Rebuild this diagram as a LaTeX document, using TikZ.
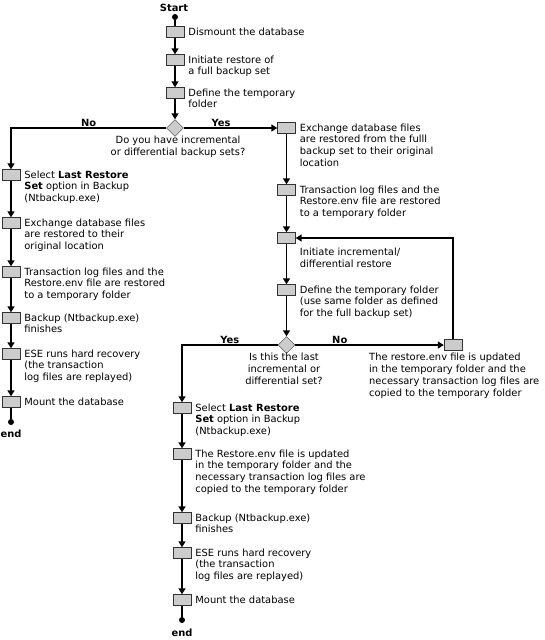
\documentclass[tikz,border=0pt]{standalone}
\usepackage{fontspec}
\setmainfont{DejaVu Sans}
\usepackage{xcolor}
\definecolor{cBox} {HTML}{CCCCCC}
\definecolor{cEdge}{HTML}{333333}
\usetikzlibrary{shapes.geometric, arrows.meta, positioning}
\newcommand{\flowfont}{\fontsize{9.9}{11.8}\selectfont}
\tikzset{
  stepbox/.style = {rectangle, draw=cEdge, fill=cBox, minimum width=18pt,
                    minimum height=11pt, inner sep=0pt},
  choice/.style  = {diamond, draw=cEdge, fill=cBox, minimum width=17pt,
                    minimum height=17pt, inner sep=0pt},
  note/.style    = {align=left, inner sep=0pt, font=\flowfont},
  tag/.style     = {inner sep=1pt, font=\flowfont\bfseries},
  endpt/.style   = {circle, fill=black, inner sep=0pt, minimum size=6pt},
  arr/.style     = {-{Triangle[width=7pt,length=6pt]}, line width=1.6pt},
  link/.style    = {line width=1.6pt},
}

\begin{document}
\begin{tikzpicture}[x=1pt, y=-1pt]
  \useasboundingbox (0,0) rectangle (544,640);

  % main column
  \node[tag]      (start) at (174,8)  {Start};
  \node[endpt]    (s0)    at (175,17) {};
  \node[stepbox]  (b1)    at (175,32) {};
  \node[stepbox]  (b2)    at (175,60) {};
  \node[stepbox]  (b3)    at (175,93) {};
  \node[choice]   (q1)    at (175,128) {};

  \node[note, right=4pt of b1.north east, anchor=north west, yshift=-1pt] (tb1)
        {Dismount the database};
  \node[note, right=4pt of b2.north east, anchor=north west, yshift=-1pt] (tb2)
        {Initiate restore of\\a full backup set};
  \node[note, right=4pt of b3.north east, anchor=north west, yshift=-1pt] (tb3)
        {Define the temporary\\folder};
  \node[note, align=center, anchor=north] (tq1) at (178,136)
        {Do you have incremental\\or differential backup sets?};

  % left column (no incremental sets)
  \node[stepbox]  (l1) at (11,175) {};
  \node[stepbox]  (l2) at (11,223) {};
  \node[stepbox]  (l3) at (11,272) {};
  \node[stepbox]  (l4) at (11,318) {};
  \node[stepbox]  (l5) at (11,354) {};
  \node[stepbox]  (l6) at (11,402) {};
  \node[endpt]    (le) at (11,422) {};
  \node[tag]      (lend) at (11,434) {end};

  \node[note, right=4pt of l1.north east, anchor=north west, yshift=-1pt] (tl1)
        {Select \textbf{Last Restore}\\\textbf{Set} option in Backup\\(Ntbackup.exe)};
  \node[note, right=4pt of l2.north east, anchor=north west, yshift=-1pt] (tl2)
        {Exchange database files\\are restored to their\\original location};
  \node[note, right=4pt of l3.north east, anchor=north west, yshift=-1pt] (tl3)
        {Transaction log files and the\\Restore.env file are restored\\to a temporary folder};
  \node[note, right=4pt of l4.north east, anchor=north west, yshift=-1pt] (tl4)
        {Backup (Ntbackup.exe)\\finishes};
  \node[note, right=4pt of l5.north east, anchor=north west, yshift=-1pt] (tl5)
        {ESE runs hard recovery\\(the transaction\\log files are replayed)};
  \node[note, right=4pt of l6.north east, anchor=north west, yshift=-1pt] (tl6)
        {Mount the database};

  % right column (incremental sets)
  \node[stepbox]  (r1) at (286.5,128) {};
  \node[stepbox]  (r2) at (286.5,190) {};
  \node[stepbox]  (r3) at (286.5,238) {};
  \node[stepbox]  (r4) at (286.5,290) {};
  \node[choice]   (q2) at (286.5,345) {};
  \node[stepbox]  (nb) at (453,345) {};

  \node[note, right=4pt of r1.north east, anchor=north west, yshift=-1pt] (tr1)
        {Exchange database files\\are restored from the fulll\\backup set to their original\\location};
  \node[note, right=4pt of r2.north east, anchor=north west, yshift=-1pt] (tr2)
        {Transaction log files and the\\Restore.env file are restored\\to a temporary folder};
  \node[note, below right=4pt and 4pt of r3.south east, anchor=north west] (tr3)
        {Initiate incremental/\\differential restore};
  \node[note, right=4pt of r4.north east, anchor=north west, yshift=-1pt] (tr4)
        {Define the temporary folder\\(use same folder as defined\\for the full backup set)};
  \node[note, align=center, anchor=north] (tq2) at (284,353)
        {Is this the last\\incremental or\\differential set?};
  \node[note, anchor=north west] (tnb) at (369,353)
        {The restore.env file is updated\\in the temporary folder and the\\necessary transaction log files are\\copied to the temporary folder};

  % middle column (last set)
  \node[stepbox]  (m1) at (182,408) {};
  \node[stepbox]  (m2) at (182,454) {};
  \node[stepbox]  (m3) at (182,518) {};
  \node[stepbox]  (m4) at (182,553) {};
  \node[stepbox]  (m5) at (182,600) {};
  \node[endpt]    (me) at (182,620) {};
  \node[tag]      (mend) at (182,633) {end};

  \node[note, right=4pt of m1.north east, anchor=north west, yshift=-1pt] (tm1)
        {Select \textbf{Last Restore}\\\textbf{Set} option in Backup\\(Ntbackup.exe)};
  \node[note, right=4pt of m2.north east, anchor=north west, yshift=-1pt] (tm2)
        {The Restore.env file is updated\\in the temporary folder and the\\necessary transaction log files are\\copied to the temporary folder};
  \node[note, right=4pt of m3.north east, anchor=north west, yshift=-1pt] (tm3)
        {Backup (Ntbackup.exe)\\finishes};
  \node[note, right=4pt of m4.north east, anchor=north west, yshift=-1pt] (tm4)
        {ESE runs hard recovery\\(the transaction\\log files are replayed)};
  \node[note, right=4pt of m5.north east, anchor=north west, yshift=-1pt] (tm5)
        {Mount the database};

  % connectors
  \draw[link] (s0) -- (b1);
  \draw[arr] (b1) -- (b2);
  \draw[arr] (b2) -- (b3);
  \draw[arr] (b3) -- (q1);
  \draw[arr] (q1.west) -| node[tag, above, pos=0.25]{No} (l1.north);
  \draw[arr] (q1.east) -- node[tag, above, pos=0.4]{Yes} (r1.west);

  \draw[arr] (l1) -- (l2);
  \draw[arr] (l2) -- (l3);
  \draw[arr] (l3) -- (l4);
  \draw[arr] (l4) -- (l5);
  \draw[arr] (l5) -- (l6);
  \draw[link] (l6) -- (le);

  \draw[arr] (r1) -- (r2);
  \draw[arr] (r2) -- (r3);
  \draw[arr] (r3) -- (r4);
  \draw[arr] (r4) -- (q2);
  \draw[arr] (q2.east) -- node[tag, above, pos=0.3]{No} (nb.west);
  \draw[arr] (nb.north) |- (r3.east);
  \draw[arr] (q2.west) -| node[tag, above, pos=0.25]{Yes} (m1.north);

  \draw[arr] (m1) -- (m2);
  \draw[arr] (m2) -- (m3);
  \draw[arr] (m3) -- (m4);
  \draw[arr] (m4) -- (m5);
  \draw[link] (m5) -- (me);

\end{tikzpicture}
\end{document}
